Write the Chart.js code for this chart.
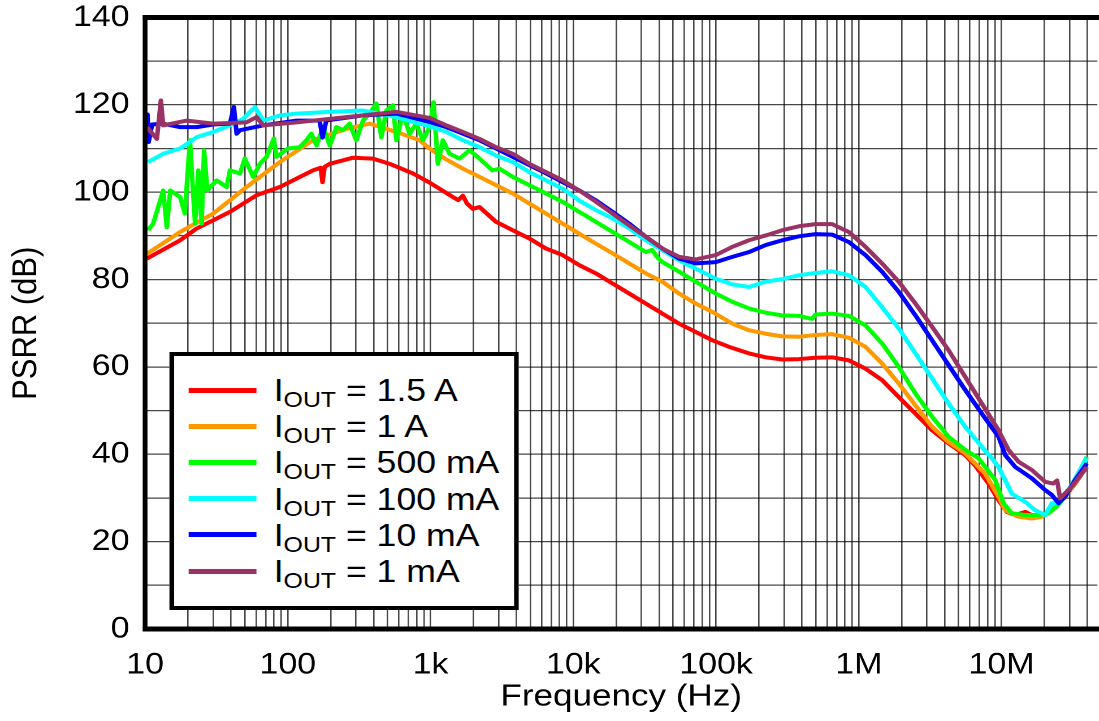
<!DOCTYPE html>
<html>
<head>
<meta charset="utf-8">
<title>PSRR vs Frequency</title>
<script src="https://cdn.jsdelivr.net/npm/chart.js@4.4.1/dist/chart.umd.min.js"></script>
<style>
  html, body { margin: 0; padding: 0; background: #fff; overflow: hidden; }
  #wrap { position: absolute; left: 0; top: 0; height: 721px; transform-origin: 0 0; }
  #legend {
    position: absolute; box-sizing: border-box; border: 4px solid #000; background: #fff;
    font-family: "Liberation Sans", Arial, sans-serif; color: #000;
  }
  .row { position: absolute; left: 0; height: 36px; display: flex; align-items: center; white-space: nowrap; }
  .swatch { height: 5px; flex: none; }
  .lbl { font-size: 31.5px; line-height: 36px; }
  .lbl sub { font-size: 22px; line-height: 0; vertical-align: baseline; position: relative; top: 6px; }
</style>
</head>
<body>
<div id="wrap"><canvas id="chart"></canvas><div id="legend"></div></div>
<script>
// === DATA (frequency in Hz, PSRR in dB) ===
const freq1p5A = [10.3, 17.6, 23, 39.3, 60.4, 87.9, 150, 170, 175, 181, 197, 286, 395, 517, 752,
  984, 1156, 1432, 1560, 1683, 1800, 1977, 2203, 2880, 3764, 4922, 6443, 8414, 11000, 14420,
  18840, 24650, 32230, 42120, 55080, 72080, 94190, 123300, 170200, 222700, 290900, 380600, 497800, 650300, 851100,
  1.114e6, 1.455e6, 1.905e6, 2.494e6, 3.259e6, 4.259e6, 5.572e6, 6.5e6, 8.111e6, 9.528e6,
  1.089e7, 1.247e7, 1.466e7, 1.721e7, 2.022e7, 2.377e7, 2.787e7, 3.276e7, 3.953e7];
const psrr1p5A = [84.8, 89.0, 91.7, 95.5, 99.3, 101.2, 105.0, 105.6, 102.3, 105.8, 106.5, 107.9, 107.7, 106.5, 104.3,
  102.2, 100.8, 98.9, 98.2, 99.2, 97.4, 96.2, 96.6, 93.2, 91.3, 89.4, 87.1, 85.6, 83.3, 81.4,
  79.1, 76.8, 74.5, 72.2, 69.9, 68.0, 66.1, 64.6, 63.1, 62.2, 61.7, 61.8, 62.1, 62.2, 61.5,
  59.6, 57.0, 53.1, 49.3, 45.5, 42.5, 39.8, 37.5, 33.3, 29.5,
  26.8, 26.1, 26.8, 25.7, 26.1, 28.0, 30.3, 33.3, 37.1];

const freq1A = [10.3, 17.6, 30, 51.4, 87.9, 150, 257, 374, 576, 838, 984, 1288, 1683, 2203, 2880,
  3764, 4922, 6443, 8414, 11000, 14420, 18840, 24650, 32230, 42120, 55080, 72080, 94190, 130100, 170200,
  222700, 290900, 380600, 497800, 650300, 851100, 1.114e6, 1.455e6, 1.905e6, 2.494e6,
  3.259e6, 4.259e6, 5.572e6, 7.691e6, 9.528e6, 1.062e7, 1.315e7, 1.63e7, 1.915e7, 2.25e7, 2.787e7, 3.953e7];
const psrr1A = [85.9, 90.9, 95.1, 101.2, 106.9, 111.9, 114.5, 115.7, 113.8, 111.9, 110.0, 107.5, 105.4, 103.5, 101.6,
  99.7, 97.4, 95.1, 92.8, 90.5, 88.2, 86.0, 83.7, 81.4, 79.5, 76.8, 74.5, 72.6, 69.9, 68.4,
  67.6, 67.0, 66.9, 67.3, 67.5, 66.7, 64.6, 60.8, 56.2, 51.2,
  46.3, 42.8, 40.2, 35.5, 30.3, 27.2, 25.7, 25.3, 25.7, 27.2, 30.3, 37.1];

const freq500mA = [10.5, 11.4, 13.4, 14.2, 15.0, 17.6, 19.0, 20.6, 22.4, 23.6, 24.9, 25.9, 27.3, 31.7, 37.3,
  39.3, 46.2, 50.0, 57.2, 63.7, 71.0, 79.8, 83.4, 100, 121, 135, 146, 159, 177, 197,
  219, 244, 271, 302, 336, 374, 417, 452, 490, 545, 576, 640, 713, 794, 884,
  984, 1050, 1125, 1219, 1358, 1596, 1875, 2203, 2710, 3038, 3764, 4922, 6443, 8414, 11000,
  14420, 18840, 24650, 32230, 35600, 39000, 42120, 55080, 72080, 99500, 130100, 170200, 222700, 290900, 380600,
  470000, 497800, 650300, 851100, 1.114e6, 1.455e6, 1.905e6, 2.494e6, 3.259e6, 4.259e6,
  5.572e6, 6.9e6, 9.036e6, 1.033e7, 1.18e7, 1.466e7, 1.815e7, 2.133e7, 2.506e7, 3.103e7, 3.953e7];
const psrr500mA = [91.3, 92.8, 100.4, 92.0, 100.4, 98.9, 95.1, 111.9, 92.8, 105.0, 92.8, 109.6, 100.4, 102.7, 101.2,
  105.0, 104.3, 107.7, 103.5, 106.5, 108.1, 112.3, 108.1, 110.0, 110.3, 111.9, 113.4, 110.7, 114.9, 110.7,
  114.9, 114.2, 115.7, 111.9, 116.4, 118.0, 120.3, 112.6, 118.7, 119.9, 111.9, 118.0, 113.4, 115.7, 111.9,
  114.9, 120.6, 106.5, 111.9, 108.8, 107.7, 109.6, 107.7, 105.0, 105.4, 103.5, 101.6, 99.7, 97.8, 95.5,
  93.2, 90.9, 88.6, 86.3, 86.8, 85.0, 84.0, 81.8, 79.5, 76.8, 74.9, 73.4, 72.4, 71.8, 71.7,
  71.0, 72.0, 72.2, 71.7, 69.5, 65.4, 60.0, 53.9, 48.6, 44.0,
  41.0, 39.1, 34.1, 28.8, 26.5, 26.1, 26.1, 26.5, 28.4, 32.6, 39.4];

const freq100mA = [10.5, 13.4, 17.6, 23, 30, 39.3, 48.7, 58.8, 67.2, 87.9, 115, 197, 336, 576, 752,
  984, 1288, 1683, 2203, 2880, 3764, 4922, 6443, 8414, 11000, 14420, 18840, 24650, 32230, 42120,
  55080, 72080, 99500, 130100, 170200, 222700, 290900, 380600, 497800, 650300, 851100,
  1.114e6, 1.455e6, 1.905e6, 2.494e6, 3.259e6, 4.259e6, 5.572e6, 7.28e6, 8.551e6, 9.528e6,
  1.18e7, 1.466e7, 1.721e7, 2.022e7, 2.25e7, 2.506e7, 2.942e7, 3.953e7];
const psrr100mA = [106.9, 108.8, 110.0, 112.6, 113.8, 115.3, 116.8, 119.5, 116.4, 117.6, 118.0, 118.4, 118.7, 117.2, 116.1,
  115.1, 113.8, 111.9, 110.3, 108.4, 106.9, 104.6, 102.7, 100.8, 98.1, 95.9, 94.0, 91.7, 89.0, 86.7,
  84.4, 82.5, 80.2, 78.9, 78.3, 79.5, 80.1, 81.0, 81.5, 81.9, 81.0,
  78.3, 73.7, 68.8, 63.1, 57.4, 51.6, 46.3, 41.7, 39.1, 37.1,
  31.0, 29.1, 27.2, 26.1, 28.8, 28.8, 31.8, 39.1];

const freq10mA = [10.2, 10.4, 10.6, 11.2, 13.4, 17.6, 23, 30, 39.3, 41.9, 43.8, 46.2, 67.2, 115, 167,
  175, 186, 336, 576, 984, 1288, 1683, 2203, 2880, 3764, 4922, 6443, 8414, 11000, 14420,
  18840, 24650, 32230, 42120, 55080, 72080, 99500, 130100, 170200, 222700, 290900, 380600, 497800, 650300, 851100,
  1.114e6, 1.455e6, 1.905e6, 2.494e6, 3.259e6, 4.259e6, 5.572e6, 7.28e6, 9.528e6, 1.062e7,
  1.247e7, 1.63e7, 2.022e7, 2.25e7, 2.506e7, 2.787e7, 3.276e7, 3.953e7];
const psrr10mA = [114.5, 117.8, 111.5, 115.5, 115.7, 114.9, 114.9, 115.5, 115.7, 119.5, 113.4, 114.2, 115.3, 116.4, 116.4,
  112.5, 116.4, 117.6, 118.0, 116.1, 114.9, 113.4, 111.9, 110.0, 108.1, 106.2, 104.3, 102.3, 100.4, 98.1,
  95.5, 92.8, 89.8, 87.1, 84.8, 83.7, 84.0, 85.2, 86.3, 87.9, 89.0, 89.9, 90.4, 90.3, 88.6,
  85.6, 81.8, 77.2, 71.8, 66.1, 60.4, 54.7, 49.3, 44.0, 39.8,
  37.1, 34.5, 31.8, 30.7, 28.8, 30.3, 34.1, 37.9];

const freq1mA = [10.3, 12.1, 12.9, 13.4, 19.6, 30, 51.4, 60.4, 67.2, 115, 197, 336, 576, 984, 1288,
  1683, 2203, 2880, 3764, 4922, 6443, 8414, 11000, 14420, 18840, 24650, 32230, 42120, 55080, 72080,
  99500, 130100, 170200, 222700, 290900, 380600, 497800, 650300, 851100, 1.114e6,
  1.455e6, 1.905e6, 2.494e6, 3.259e6, 4.259e6, 5.572e6, 7.28e6, 9.528e6, 1.12e7, 1.315e7,
  1.63e7, 2.022e7, 2.3e7, 2.45e7, 2.572e7, 3.103e7, 3.953e7];
const psrr1mA = [114.9, 112.2, 121.0, 115.3, 116.4, 115.7, 116.0, 117.2, 115.3, 116.0, 116.8, 117.6, 118.4, 117.0, 115.3,
  113.8, 112.2, 110.3, 108.8, 106.5, 104.6, 102.7, 100.4, 97.8, 95.1, 92.4, 89.8, 87.1, 85.2, 84.6,
  85.6, 87.5, 89.0, 90.1, 91.3, 92.2, 92.7, 92.7, 90.9, 87.5,
  83.7, 79.5, 74.5, 69.2, 63.8, 57.7, 51.6, 45.5, 41.0, 38.3,
  36.4, 33.7, 33.3, 34.0, 29.9, 32.6, 37.1];

const currents = ["1.5 A", "1 A", "500 mA", "100 mA", "10 mA", "1 mA"];
const seriesFreq = [freq1p5A, freq1A, freq500mA, freq100mA, freq10mA, freq1mA];
const seriesPsrr = [psrr1p5A, psrr1A, psrr500mA, psrr100mA, psrr10mA, psrr1mA];

// tick labels
const decadeValues = [10, 100, 1e3, 1e4, 1e5, 1e6, 1e7];
const decadeLabels = ["10", "100", "1k", "10k", "100k", "1M", "10M"];
const yMin = 0, yMax = 140, yStep = 10, yLabelStep = 20;
const xMin = 10, xMax = 4.69e7;

// === STYLE / LAYOUT (reference pixels, the picture is a bit wide) ===
const colors = ["#ff0000", "#ff9900", "#00ff00", "#00ffff", "#0000ff", "#993366"];
const SX = 1.13;
const W = 1099 / SX;
const FONT = '"Liberation Sans", Arial, sans-serif';
const GRID = "rgba(0,0,0,0.72)";

document.getElementById("wrap").style.width = W + "px";
document.getElementById("wrap").style.transform = `scaleX(${SX})`;

// vertical grid lines at 1..9 x each decade
const xGrid = [];
decadeValues.forEach(d => {
    for (let m = 1; m <= 9; m++) if (m * d <= xMax) xGrid.push(m * d);
});

// === FRAME (left, top, bottom border) ===
const framePlugin = {
    id: "frame",
    afterDatasetsDraw(chart) {
        const { ctx, chartArea: a } = chart;
        ctx.save();
        ctx.strokeStyle = "#000";
        ctx.lineWidth = 5;
        ctx.beginPath();
        ctx.moveTo(a.left - 2, a.top); ctx.lineTo(chart.width, a.top);
        ctx.moveTo(a.left - 2, a.bottom); ctx.lineTo(chart.width, a.bottom);
        ctx.stroke();
        ctx.lineWidth = 4.2;
        ctx.beginPath();
        ctx.moveTo(a.left, a.top - 2.5); ctx.lineTo(a.left, a.bottom + 2.5);
        ctx.stroke();
        ctx.restore();
    }
};

Chart.defaults.font.family = FONT;
Chart.defaults.color = "#000";

new Chart(document.getElementById("chart"), {
    type: "line",
    data: {
        datasets: currents.map((c, i) => ({
            label: "IOUT = " + c,
            data: seriesFreq[i].map((f, j) => ({ x: f, y: seriesPsrr[i][j] })),
            borderColor: colors[i],
            backgroundColor: colors[i],
            borderWidth: 4,
            pointRadius: 0,
            tension: 0,
            borderJoinStyle: "round",
            order: currents.length - i
        }))
    },
    options: {
        responsive: true,
        maintainAspectRatio: false,
        animation: false,
        devicePixelRatio: 2,
        layout: { padding: { top: 17.5, right: 0, bottom: 0, left: 0 } },
        plugins: { legend: { display: false }, tooltip: { enabled: false } },
        scales: {
            x: {
                type: "logarithmic",
                min: xMin,
                max: xMax,
                afterBuildTicks: s => { s.ticks = xGrid.map(v => ({ value: v })); },
                afterFit: s => { s.height = 721 - 629; },
                ticks: {
                    autoSkip: false, maxRotation: 0, minRotation: 0, padding: 0,
                    font: { size: 30 },
                    callback: v => {
                        const i = decadeValues.indexOf(v);
                        return i >= 0 ? decadeLabels[i] : "";
                    }
                },
                grid: { color: GRID, lineWidth: 1.3, drawTicks: true, tickLength: 18, tickColor: "rgba(0,0,0,0)" },
                border: { display: false },
                title: { display: true, text: "Frequency (Hz)", font: { size: 31 }, padding: { top: 0, bottom: 5.4 } }
            },
            y: {
                min: yMin,
                max: yMax,
                afterFit: s => { s.width = 145 / SX; },
                ticks: {
                    stepSize: yStep, padding: 0,
                    font: { size: 30, lineHeight: 1.15 },
                    callback: v => (v % yLabelStep === 0 ? String(v) : "")
                },
                grid: { color: GRID, lineWidth: 1.3, drawTicks: true, tickLength: 13.8, tickColor: "rgba(0,0,0,0)" },
                border: { display: false },
                title: { display: true, text: "PSRR (dB)", font: { size: 31 }, padding: { top: 5, bottom: 0 } }
            }
        }
    },
    plugins: [framePlugin]
});

// === LEGEND (HTML so that OUT can be a subscript) ===
const legend = document.getElementById("legend");
legend.style.left = (169 / SX) + "px";
legend.style.top = "352px";
legend.style.width = ((519 - 169) / SX) + "px";
legend.style.height = (610 - 352) + "px";
currents.forEach((c, i) => {
    const row = document.createElement("div");
    row.className = "row";
    row.style.top = (34 + i * 36.2 - 18) + "px";
    row.innerHTML =
        `<span class="swatch" style="background:${colors[i]};margin-left:${(189 - 169) / SX - 4}px;width:${68 / SX}px"></span>` +
        `<span class="lbl" style="margin-left:${(273.7 - 257) / SX}px">I<sub>OUT</sub> = ${c}</span>`;
    legend.appendChild(row);
});
</script>
</body>
</html>
